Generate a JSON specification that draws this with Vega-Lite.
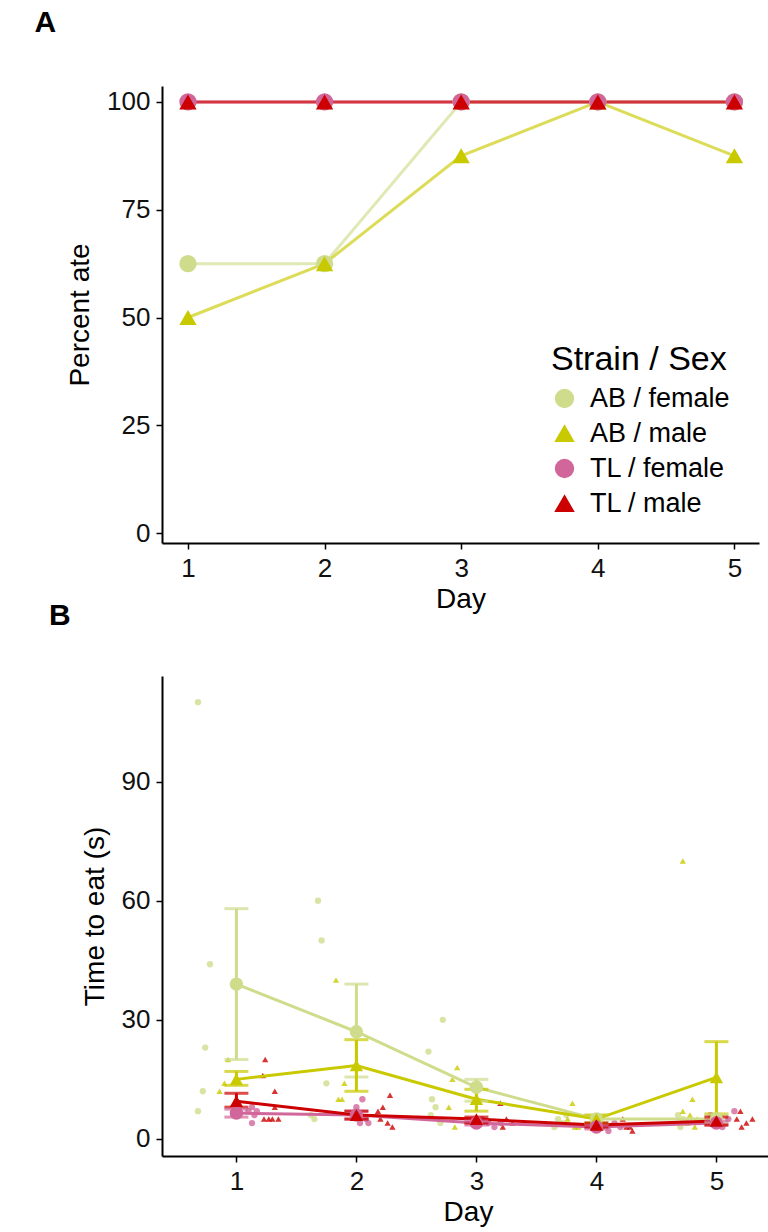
{
  "$schema": "https://vega.github.io/schema/vega-lite/v6.json",
  "background": "white",
  "padding": {"left": 34, "top": 8, "right": 5, "bottom": 2},
  "spacing": -12,
  "align": "none",
  "config": {
    "font": "Liberation Sans",
    "view": {"stroke": null},
    "axis": {"grid": false, "domainColor": "black", "domainWidth": 2, "tickColor": "black", "tickWidth": 1.5, "tickSize": 6, "labelFontSize": 26, "labelColor": "#111", "titleFontSize": 28, "titleFontWeight": "normal", "titleColor": "black", "labelPadding": 6},
    "title": {"fontSize": 30, "fontWeight": "bold", "anchor": "start", "frame": "bounds"}
  },
  "datasets": {
    "pct": [
      {"day": 1, "grp": "AB / female", "pct": 62.5}, {"day": 2, "grp": "AB / female", "pct": 62.5}, {"day": 3, "grp": "AB / female", "pct": 100}, {"day": 4, "grp": "AB / female", "pct": 100}, {"day": 5, "grp": "AB / female", "pct": 100},
      {"day": 1, "grp": "AB / male", "pct": 50}, {"day": 2, "grp": "AB / male", "pct": 62.5}, {"day": 3, "grp": "AB / male", "pct": 87.5}, {"day": 4, "grp": "AB / male", "pct": 100}, {"day": 5, "grp": "AB / male", "pct": 87.5},
      {"day": 1, "grp": "TL / female", "pct": 100}, {"day": 2, "grp": "TL / female", "pct": 100}, {"day": 3, "grp": "TL / female", "pct": 100}, {"day": 4, "grp": "TL / female", "pct": 100}, {"day": 5, "grp": "TL / female", "pct": 100},
      {"day": 1, "grp": "TL / male", "pct": 100}, {"day": 2, "grp": "TL / male", "pct": 100}, {"day": 3, "grp": "TL / male", "pct": 100}, {"day": 4, "grp": "TL / male", "pct": 100}, {"day": 5, "grp": "TL / male", "pct": 100}
    ],
    "raw": [
      {"x": 0.68, "grp": "AB / female", "t": 110}, {"x": 0.78, "grp": "AB / female", "t": 44}, {"x": 0.74, "grp": "AB / female", "t": 23}, {"x": 0.72, "grp": "AB / female", "t": 12}, {"x": 0.68, "grp": "AB / female", "t": 7},
      {"x": 1.68, "grp": "AB / female", "t": 60}, {"x": 1.71, "grp": "AB / female", "t": 50}, {"x": 1.75, "grp": "AB / female", "t": 14}, {"x": 1.65, "grp": "AB / female", "t": 5}, {"x": 1.62, "grp": "AB / female", "t": 6},
      {"x": 2.72, "grp": "AB / female", "t": 30}, {"x": 2.6, "grp": "AB / female", "t": 22}, {"x": 2.63, "grp": "AB / female", "t": 10}, {"x": 2.66, "grp": "AB / female", "t": 8}, {"x": 2.62, "grp": "AB / female", "t": 6}, {"x": 2.7, "grp": "AB / female", "t": 4},
      {"x": 3.68, "grp": "AB / female", "t": 5}, {"x": 3.72, "grp": "AB / female", "t": 4}, {"x": 3.75, "grp": "AB / female", "t": 6}, {"x": 3.65, "grp": "AB / female", "t": 3},
      {"x": 4.68, "grp": "AB / female", "t": 6}, {"x": 4.72, "grp": "AB / female", "t": 5}, {"x": 4.75, "grp": "AB / female", "t": 4}, {"x": 4.7, "grp": "AB / female", "t": 3},
      {"x": 0.93, "grp": "AB / male", "t": 20}, {"x": 0.9, "grp": "AB / male", "t": 14}, {"x": 0.86, "grp": "AB / male", "t": 12},
      {"x": 1.83, "grp": "AB / male", "t": 40}, {"x": 1.85, "grp": "AB / male", "t": 10}, {"x": 1.88, "grp": "AB / male", "t": 10}, {"x": 1.9, "grp": "AB / male", "t": 14},
      {"x": 2.84, "grp": "AB / male", "t": 18}, {"x": 2.8, "grp": "AB / male", "t": 15}, {"x": 2.77, "grp": "AB / male", "t": 8}, {"x": 2.82, "grp": "AB / male", "t": 3},
      {"x": 3.8, "grp": "AB / male", "t": 9}, {"x": 3.76, "grp": "AB / male", "t": 5}, {"x": 3.85, "grp": "AB / male", "t": 3}, {"x": 3.82, "grp": "AB / male", "t": 3},
      {"x": 4.72, "grp": "AB / male", "t": 70}, {"x": 4.8, "grp": "AB / male", "t": 10}, {"x": 4.72, "grp": "AB / male", "t": 7}, {"x": 4.78, "grp": "AB / male", "t": 6}, {"x": 4.84, "grp": "AB / male", "t": 5}, {"x": 4.76, "grp": "AB / male", "t": 4}, {"x": 4.82, "grp": "AB / male", "t": 3},
      {"x": 1.13, "grp": "TL / female", "t": 8}, {"x": 1.15, "grp": "TL / female", "t": 6}, {"x": 1.13, "grp": "TL / female", "t": 4}, {"x": 1.1, "grp": "TL / female", "t": 7}, {"x": 1.17, "grp": "TL / female", "t": 7},
      {"x": 2.05, "grp": "TL / female", "t": 10}, {"x": 2.0, "grp": "TL / female", "t": 8}, {"x": 2.03, "grp": "TL / female", "t": 4}, {"x": 2.08, "grp": "TL / female", "t": 5}, {"x": 2.1, "grp": "TL / female", "t": 4},
      {"x": 3.05, "grp": "TL / female", "t": 5}, {"x": 3.1, "grp": "TL / female", "t": 4}, {"x": 3.15, "grp": "TL / female", "t": 3}, {"x": 3.2, "grp": "TL / female", "t": 4},
      {"x": 4.05, "grp": "TL / female", "t": 3}, {"x": 4.1, "grp": "TL / female", "t": 2}, {"x": 4.15, "grp": "TL / female", "t": 4}, {"x": 4.2, "grp": "TL / female", "t": 3},
      {"x": 4.95, "grp": "TL / female", "t": 6}, {"x": 5.0, "grp": "TL / female", "t": 4}, {"x": 5.05, "grp": "TL / female", "t": 3}, {"x": 5.1, "grp": "TL / female", "t": 5}, {"x": 5.15, "grp": "TL / female", "t": 7},
      {"x": 1.24, "grp": "TL / male", "t": 20}, {"x": 1.32, "grp": "TL / male", "t": 12}, {"x": 1.22, "grp": "TL / male", "t": 16}, {"x": 1.32, "grp": "TL / male", "t": 8}, {"x": 1.23, "grp": "TL / male", "t": 5}, {"x": 1.3, "grp": "TL / male", "t": 5}, {"x": 1.27, "grp": "TL / male", "t": 5}, {"x": 1.35, "grp": "TL / male", "t": 5},
      {"x": 2.28, "grp": "TL / male", "t": 11}, {"x": 2.22, "grp": "TL / male", "t": 8}, {"x": 2.18, "grp": "TL / male", "t": 7}, {"x": 2.26, "grp": "TL / male", "t": 4}, {"x": 2.2, "grp": "TL / male", "t": 5}, {"x": 2.3, "grp": "TL / male", "t": 3},
      {"x": 3.2, "grp": "TL / male", "t": 9}, {"x": 3.25, "grp": "TL / male", "t": 5}, {"x": 3.3, "grp": "TL / male", "t": 4}, {"x": 3.22, "grp": "TL / male", "t": 3},
      {"x": 4.22, "grp": "TL / male", "t": 5}, {"x": 4.25, "grp": "TL / male", "t": 3}, {"x": 4.3, "grp": "TL / male", "t": 2}, {"x": 4.28, "grp": "TL / male", "t": 3},
      {"x": 5.2, "grp": "TL / male", "t": 7}, {"x": 5.17, "grp": "TL / male", "t": 5}, {"x": 5.25, "grp": "TL / male", "t": 4}, {"x": 5.21, "grp": "TL / male", "t": 3}, {"x": 5.3, "grp": "TL / male", "t": 5}
    ],
    "summ": [
      {"day": 1, "grp": "AB / female", "m": 39, "lo": 20, "hi": 58}, {"day": 2, "grp": "AB / female", "m": 27, "lo": 15.6, "hi": 39}, {"day": 3, "grp": "AB / female", "m": 13, "lo": 9.5, "hi": 15}, {"day": 4, "grp": "AB / female", "m": 5, "lo": 4, "hi": 6}, {"day": 5, "grp": "AB / female", "m": 5, "lo": 4, "hi": 6},
      {"day": 1, "grp": "AB / male", "m": 15, "lo": 13.5, "hi": 17}, {"day": 2, "grp": "AB / male", "m": 18.5, "lo": 12, "hi": 25}, {"day": 3, "grp": "AB / male", "m": 10, "lo": 7, "hi": 12.5}, {"day": 4, "grp": "AB / male", "m": 5, "lo": 4, "hi": 6}, {"day": 5, "grp": "AB / male", "m": 15.5, "lo": 6.3, "hi": 24.5},
      {"day": 1, "grp": "TL / female", "m": 6.5, "lo": 5.5, "hi": 7.5}, {"day": 2, "grp": "TL / female", "m": 6, "lo": 5, "hi": 7}, {"day": 3, "grp": "TL / female", "m": 4, "lo": 3.5, "hi": 4.5}, {"day": 4, "grp": "TL / female", "m": 3, "lo": 2.5, "hi": 3.5}, {"day": 5, "grp": "TL / female", "m": 4, "lo": 3.5, "hi": 4.5},
      {"day": 1, "grp": "TL / male", "m": 9.5, "lo": 8, "hi": 11.5}, {"day": 2, "grp": "TL / male", "m": 6, "lo": 5, "hi": 7}, {"day": 3, "grp": "TL / male", "m": 5, "lo": 4, "hi": 5.5}, {"day": 4, "grp": "TL / male", "m": 3.5, "lo": 3, "hi": 4}, {"day": 5, "grp": "TL / male", "m": 4.5, "lo": 3.5, "hi": 5.5}
    ]
  },
  "vconcat": [
    {
      "title": {"text": "A", "dx": -32, "offset": 48},
      "width": 597,
      "height": 457,
      "data": {"name": "pct"},
      "encoding": {
        "x": {"field": "day", "type": "quantitative", "scale": {"domain": [0.81, 5.18], "nice": false, "zero": false}, "axis": {"values": [1, 2, 3, 4, 5], "title": "Day"}},
        "y": {"field": "pct", "type": "quantitative", "scale": {"domain": [-2.3, 103.7], "nice": false}, "axis": {"values": [0, 25, 50, 75, 100], "title": "Percent ate", "titlePadding": 12}},
        "color": {"field": "grp", "type": "nominal", "scale": {"domain": ["AB / female", "AB / male", "TL / female", "TL / male"], "range": ["#cfdc8c", "#c9c900", "#d1669a", "#cc0000"]},
          "legend": {"title": "Strain / Sex", "orient": "none", "legendX": 389, "legendY": 257, "titleFontSize": 34, "titleFontWeight": "normal", "titleColor": "black", "labelFontSize": 27, "labelColor": "black", "symbolSize": 320, "symbolOpacity": 1, "rowPadding": 7, "titlePadding": 8, "labelOffset": 12}},
        "shape": {"field": "grp", "type": "nominal", "scale": {"domain": ["AB / female", "AB / male", "TL / female", "TL / male"], "range": ["circle", "triangle-up", "circle", "triangle-up"]},
          "legend": {"title": "Strain / Sex", "orient": "none", "legendX": 389, "legendY": 257, "titleFontSize": 34, "titleFontWeight": "normal", "titleColor": "black", "labelFontSize": 27, "labelColor": "black", "symbolSize": 320, "symbolOpacity": 1, "rowPadding": 7, "titlePadding": 8, "labelOffset": 12}}
      },
      "layer": [
        {"mark": {"type": "line", "strokeWidth": 3, "opacity": 0.65}, "encoding": {"shape": {"value": null}}},
        {"mark": {"type": "point", "filled": true, "opacity": 1, "size": 300}}
      ]
    },
    {
      "title": {"text": "B", "dx": -32, "offset": 45},
      "width": 612,
      "height": 480,
      "encoding": {
        "color": {"field": "grp", "type": "nominal", "scale": {"domain": ["AB / female", "AB / male", "TL / female", "TL / male"], "range": ["#cfdc8c", "#c9c900", "#d1669a", "#cc0000"]}, "legend": null},
        "shape": {"field": "grp", "type": "nominal", "scale": {"domain": ["AB / female", "AB / male", "TL / female", "TL / male"], "range": ["circle", "triangle-up", "circle", "triangle-up"]}, "legend": null}
      },
      "layer": [
        {
          "data": {"name": "raw"},
          "mark": {"type": "point", "filled": true, "size": 40, "opacity": 0.8},
          "encoding": {
            "x": {"field": "x", "type": "quantitative", "title": "Day", "scale": {"domain": [0.38, 5.48], "nice": false, "zero": false}, "axis": {"values": [1, 2, 3, 4, 5], "format": "d"}},
            "y": {"field": "t", "type": "quantitative", "title": "Time to eat (s)", "scale": {"domain": [-4.3, 116.6], "nice": false, "zero": false}, "axis": {"values": [0, 30, 60, 90], "titlePadding": 12}}
          }
        },
        {
          "data": {"name": "summ"},
          "mark": {"type": "line", "strokeWidth": 3},
          "encoding": {"x": {"field": "day", "type": "quantitative", "title": "Day"}, "y": {"field": "m", "type": "quantitative", "title": "Time to eat (s)"}, "shape": {"value": null}}
        },
        {
          "data": {"name": "summ"},
          "mark": {"type": "errorbar", "thickness": 3, "ticks": {"size": 24, "thickness": 3}},
          "encoding": {"x": {"field": "day", "type": "quantitative", "title": "Day"}, "y": {"field": "lo", "type": "quantitative", "title": "Time to eat (s)"}, "y2": {"field": "hi"}, "shape": {"value": null}}
        },
        {
          "data": {"name": "summ"},
          "mark": {"type": "point", "filled": true, "size": 180, "opacity": 1},
          "encoding": {"x": {"field": "day", "type": "quantitative", "title": "Day"}, "y": {"field": "m", "type": "quantitative", "title": "Time to eat (s)"}}
        }
      ]
    }
  ]
}
